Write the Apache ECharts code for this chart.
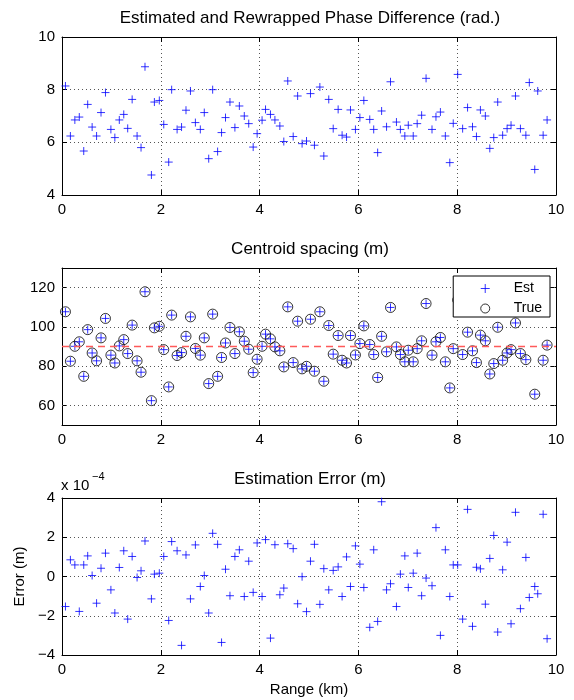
<!DOCTYPE html>
<html>
<head>
<meta charset="utf-8">
<script src="https://cdn.jsdelivr.net/npm/echarts@6/dist/echarts.min.js"></script>
<style>
html,body{margin:0;padding:0;background:#fff;}
#chart{width:574px;height:700px;}
</style>
</head>
<body>
<div id="chart"></div>
<script>
// ---------------- data ----------------
const rangeKm = [
  0.07,0.17,0.26,0.35,0.44,0.52,0.61,0.70,0.79,0.88,
  0.99,1.07,1.16,1.25,1.33,1.42,1.52,1.60,1.68,1.81,
  1.87,1.97,2.06,2.16,2.22,2.33,2.42,2.51,2.60,2.70,
  2.80,2.88,2.97,3.05,3.15,3.23,3.31,3.40,3.50,3.59,
  3.69,3.78,3.87,3.95,4.05,4.12,4.22,4.31,4.41,4.49,
  4.57,4.68,4.77,4.86,4.95,5.03,5.11,
  5.22,5.30,5.40,5.49,5.59,5.67,5.76,5.84,5.94,6.03,
  6.11,6.23,6.31,6.39,6.47,6.57,6.65,6.77,6.85,6.94,
  7.01,7.11,7.19,7.28,7.37,7.49,7.57,7.66,7.76,7.85,
  7.92,8.01,8.11,8.21,8.31,8.39,8.47,8.57,8.66,8.74,
  8.82,8.92,9.01,9.09,9.18,9.28,9.39,9.46,9.57,9.63,
  9.74,9.82
];
const phaseRad = [
  8.14,6.24,6.85,6.96,5.67,7.44,6.58,6.24,7.13,7.89,
  6.49,6.18,6.85,7.06,6.53,7.63,6.24,5.80,8.87,4.76,
  7.53,7.59,6.68,5.25,8.00,6.49,6.58,7.22,7.95,6.75,
  6.49,7.13,5.38,8.00,5.65,6.37,6.94,7.53,6.56,7.38,
  7.00,6.71,5.82,6.33,6.84,7.25,7.06,6.85,6.62,6.03,
  8.33,6.22,7.76,5.95,6.05,7.85,5.89,
  8.10,5.48,7.63,6.52,7.25,6.27,6.20,7.23,6.49,6.94,
  7.59,6.87,6.49,5.61,7.19,6.59,8.30,6.77,6.49,6.24,
  6.65,6.24,6.71,7.03,8.43,6.49,6.97,7.15,6.24,5.23,
  6.72,8.58,6.52,7.32,6.59,6.22,7.23,7.00,5.77,6.18,
  7.53,6.27,6.52,6.65,7.76,6.52,6.27,8.27,4.97,7.95,
  6.27,6.85
];
const estSpacing = [
  107.7,82.5,90.1,92.4,74.8,98.6,86.7,82.7,94.4,104.3,
  85.6,81.6,90.3,93.5,86.4,100.9,82.7,76.9,117.9,62.4,
  99.5,100.3,88.4,69.4,106.0,85.4,86.9,95.2,105.1,89.0,
  85.6,94.4,71.1,106.5,74.8,84.4,91.8,99.7,86.4,97.5,
  92.7,88.6,76.7,83.5,90.1,96.3,93.9,89.8,87.8,79.6,
  110.2,81.8,102.9,78.6,79.9,103.9,77.4,
  107.7,72.3,100.7,86.1,95.6,83.0,81.6,95.6,85.7,91.5,
  100.5,91.0,85.9,74.2,95.2,87.3,109.9,89.8,85.9,82.2,
  88.1,82.2,88.9,92.9,111.9,85.6,92.4,94.6,82.2,68.9,
  88.9,113.7,85.9,97.3,87.8,81.8,95.8,92.9,76.0,81.3,
  99.8,83.0,86.7,88.4,102.0,86.4,83.3,109.6,65.7,110.0,
  83.0,90.7
];
const trueSpacing = [
  107.7,82.5,90.1,92.4,74.8,98.6,86.7,82.7,94.4,104.3,
  85.6,81.6,90.3,93.5,86.4,100.9,82.7,76.9,117.9,62.4,
  99.5,100.3,88.4,69.4,106.0,85.4,86.9,95.2,105.1,89.0,
  85.6,94.4,71.1,106.5,74.8,84.4,91.8,99.7,86.4,97.5,
  92.7,88.6,76.7,83.5,90.1,96.3,93.9,89.8,87.8,79.6,
  110.2,81.8,102.9,78.6,79.9,103.9,77.4,
  107.7,72.3,100.7,86.1,95.6,83.0,81.6,95.6,85.7,91.5,
  100.5,91.0,85.9,74.2,95.2,87.3,109.9,89.8,85.9,82.2,
  88.1,82.2,88.9,92.9,111.9,85.6,92.4,94.6,82.2,68.9,
  88.9,113.7,85.9,97.3,87.8,81.8,95.8,92.9,76.0,81.3,
  99.8,83.0,86.7,88.4,102.0,86.4,83.3,109.6,65.7,110.0,
  83.0,90.7
];
// estimation error, in units of 1e-4 m
const errorE4 = [
  -1.53,0.85,0.59,-1.78,0.59,1.05,0.05,-1.36,0.42,1.19,
  -0.68,-1.86,0.46,1.31,-2.17,1.02,-0.05,0.29,1.81,-1.14,
  0.12,0.17,1.02,-2.24,1.78,1.31,-3.51,1.10,-1.14,1.61,
  -0.51,0.05,-1.86,2.20,1.64,-3.36,0.37,-0.98,1.02,1.36,
  -1.02,0.78,-0.81,1.71,-1.02,1.88,-3.14,1.62,-0.93,-0.59,
  1.67,1.42,-1.39,-0.01,-1.79,0.78,1.64,
  -1.42,0.40,-0.68,0.31,0.49,-1.02,1.00,-0.51,1.56,0.63,
  -0.56,-2.59,1.36,-2.29,3.81,-0.68,-0.37,-1.53,0.12,1.05,
  -0.56,0.17,1.19,-0.98,-0.08,-0.47,2.49,-3.00,1.36,-1.02,
  0.59,0.59,-2.17,3.42,-2.54,0.47,0.39,-1.41,0.92,2.09,
  -2.83,0.34,1.75,-2.41,3.27,-1.64,0.97,-1.07,-0.51,-0.88,
  3.17,-3.17
];
const meanSpacing = 90;
const spacingTicks = [60, 80, 100, 120];
const titles = ['Estimated and Rewrapped Phase Difference (rad.)', 'Centroid spacing (m)', 'Estimation Error (m)'];

// ---------------- chart ----------------
const FONT = "'Liberation Sans', Arial, Helvetica, sans-serif";
const PLUS = 'path://M0,-5L0,5M-5,0L5,0';
const BLUE = '#0000ff';
const GL = 62, GR = 18;
const grids = [
  {left: GL, right: GR, top: 37, height: 158},
  {left: GL, right: GR, top: 268, height: 157},
  {left: GL, right: GR, top: 498, height: 157}
];
const axisLine = {show: true, onZero: false, lineStyle: {color: '#000', width: 1}};
const tick = {show: true, inside: true, length: 5, lineStyle: {color: '#000'}};
const dotted = {show: true, lineStyle: {color: '#555', type: [1, 3], width: 1}};
const lab = {fontFamily: FONT, fontSize: 15, color: '#000'};

const xAxes = [], yAxes = [];
for (let g = 0; g < 3; g++) {
  xAxes.push({type: 'value', gridIndex: g, min: 0, max: 10, interval: 2, axisLine, axisTick: tick,
    splitLine: dotted, axisLabel: Object.assign({margin: 7}, lab),
    name: g === 2 ? 'Range (km)' : '', nameLocation: 'middle', nameGap: 27,
    nameTextStyle: {fontFamily: FONT, fontSize: 15, color: '#000'}});
}
for (let g = 0; g < 3; g++) {
  xAxes.push({type: 'value', gridIndex: g, position: 'top', min: 0, max: 10, interval: 2, axisLine,
    axisTick: tick, splitLine: {show: false}, axisLabel: {show: false}});
}
const minusFmt = v => String(v).replace('-', '\u2212');
yAxes.push({type: 'value', gridIndex: 0, min: 4, max: 10, interval: 2, axisLine, axisTick: tick,
  splitLine: dotted, axisLabel: Object.assign({margin: 7}, lab)});
yAxes.push({type: 'value', gridIndex: 1, min: 50, max: 130, interval: 10, axisLine,
  axisTick: Object.assign({customValues: spacingTicks}, tick),
  splitLine: {show: false}, axisLabel: Object.assign({margin: 7, customValues: spacingTicks}, lab)});
yAxes.push({type: 'value', gridIndex: 2, min: -4, max: 4, interval: 2, axisLine, axisTick: tick,
  splitLine: dotted, axisLabel: Object.assign({margin: 7, formatter: minusFmt}, lab),
  name: 'Error (m)', nameLocation: 'middle', nameGap: 27,
  nameTextStyle: {fontFamily: FONT, fontSize: 15, color: '#000'}});
yAxes.push({type: 'value', gridIndex: 0, position: 'right', min: 4, max: 10, interval: 2, axisLine,
  axisTick: tick, splitLine: {show: false}, axisLabel: {show: false}});
yAxes.push({type: 'value', gridIndex: 1, position: 'right', min: 50, max: 130, interval: 10, axisLine,
  axisTick: Object.assign({customValues: spacingTicks}, tick), splitLine: {show: false}, axisLabel: {show: false}});
yAxes.push({type: 'value', gridIndex: 2, position: 'right', min: -4, max: 4, interval: 2, axisLine,
  axisTick: tick, splitLine: {show: false}, axisLabel: {show: false}});

const pair = arr => rangeKm.map((x, i) => [x, arr[i]]);
const plusStyle = {color: 'none', borderColor: BLUE, borderWidth: 1};
const circStyle = {color: 'none', borderColor: '#000', borderWidth: 1};

const titleGraphics = titles.map((t, i) => ({
  type: 'text', x: 310, y: [18, 249, 479][i],
  style: {text: t, fontFamily: FONT, fontSize: 17, fill: '#000', textAlign: 'center', textVerticalAlign: 'middle'}
}));

const option = {
  animation: false,
  backgroundColor: '#fff',
  grid: grids,
  xAxis: xAxes,
  yAxis: yAxes,
  legend: {
    z: 50,
    data: [
      {name: 'Est', icon: PLUS, itemStyle: plusStyle},
      {name: 'True', icon: 'circle', itemStyle: circStyle}
    ],
    orient: 'vertical', right: 24, top: 276, itemWidth: 9, itemHeight: 9, itemGap: 3,
    padding: [4, 8, 0, 25], backgroundColor: '#fff', borderColor: '#000', borderWidth: 1, borderRadius: 0,
    selectedMode: false,
    textStyle: {fontFamily: FONT, fontSize: 14, color: '#000', padding: [0, 0, 0, 19], lineHeight: 17}
  },
  graphic: titleGraphics.concat([
    {type: 'text', x: 61, y: 486, style: {text: 'x 10', fontFamily: FONT, fontSize: 15, fill: '#000', textVerticalAlign: 'middle'}},
    {type: 'text', x: 92, y: 477, style: {text: '\u22124', fontFamily: FONT, fontSize: 11, fill: '#000', textVerticalAlign: 'middle'}}
  ]),
  series: [
    {name: 'Phase', type: 'scatter', xAxisIndex: 0, yAxisIndex: 0, data: pair(phaseRad),
      symbol: PLUS, symbolSize: 8, itemStyle: plusStyle, silent: true},
    {name: 'True', type: 'scatter', xAxisIndex: 1, yAxisIndex: 1, data: pair(trueSpacing),
      symbol: 'circle', symbolSize: 10, itemStyle: circStyle, silent: true, z: 3,
      markLine: {silent: true, symbol: 'none', label: {show: false},
        lineStyle: {color: '#555', type: [1, 3], width: 1},
        data: spacingTicks.map(v => ({yAxis: v}))}},
    {name: 'Est', type: 'scatter', xAxisIndex: 1, yAxisIndex: 1, data: pair(estSpacing),
      symbol: PLUS, symbolSize: 8, itemStyle: plusStyle, silent: true, z: 4,
      markLine: {silent: true, symbol: 'none', label: {show: false},
        lineStyle: {color: '#ff5a5a', type: [7, 5], width: 1.3},
        data: [{yAxis: meanSpacing}]}},
    {name: 'Error', type: 'scatter', xAxisIndex: 2, yAxisIndex: 2, data: pair(errorE4),
      symbol: PLUS, symbolSize: 8, itemStyle: plusStyle, silent: true}
  ]
};
const chart = echarts.init(document.getElementById('chart'), null, {renderer: 'canvas'});
chart.setOption(option);
</script>
</body>
</html>
